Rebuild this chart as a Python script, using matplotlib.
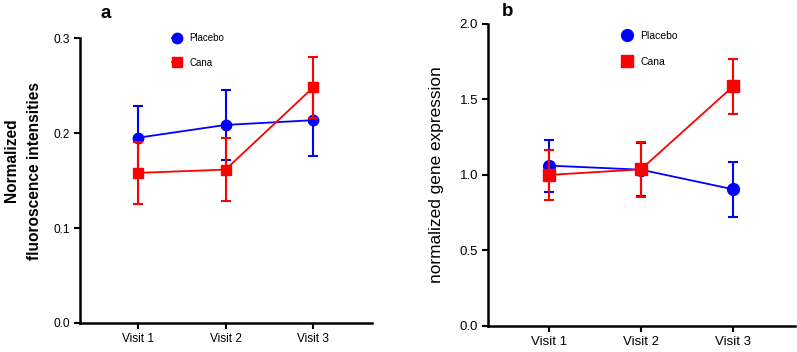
import matplotlib
matplotlib.use("Agg")
import matplotlib.pyplot as plt
from matplotlib.lines import Line2D

plt.rcParams['font.family'] = ['Liberation Sans', 'DejaVu Sans']

visits = ["Visit 1", "Visit 2", "Visit 3"]

# Panel a: normalized fluorescence intensities
a_placebo = [0.195, 0.2085, 0.2135]
a_placebo_err = [0.033, 0.0365, 0.038]
a_cana = [0.158, 0.1615, 0.248]
a_cana_err = [0.0325, 0.0335, 0.032]
a_yticks = [0.0, 0.1, 0.2, 0.3]

# Panel b: normalized gene expression
b_placebo = [1.062, 1.035, 0.905]
b_placebo_err = [0.172, 0.175, 0.183]
b_cana = [1.0, 1.037, 1.587]
b_cana_err = [0.163, 0.18, 0.182]
b_yticks = [0.0, 0.5, 1.0, 1.5, 2.0]

BLUE = "#0000ff"
RED = "#ff0000"

W, H = 797, 352
fig = plt.figure(figsize=(W / 100, H / 100), dpi=100)
ax1 = fig.add_axes([0.1004, 0.0824, 0.3663, 0.8096])
ax2 = fig.add_axes([0.612, 0.0739, 0.3855, 0.8581])

def style(ax, yticks, ylim, tick_fs):
    x = range(len(visits))
    for s in ("top", "right"):
        ax.spines[s].set_visible(False)
    for s in ("left", "bottom"):
        ax.spines[s].set_linewidth(1.8)
    ax.set_xticks(list(x))
    ax.set_xticklabels(visits, fontsize=tick_fs)
    ax.set_yticks(yticks)
    ax.set_yticklabels([f"{v:.1f}" for v in yticks], fontsize=tick_fs)
    ax.set_ylim(*ylim)
    ax.set_xlim(-0.66, 2.67)
    ax.tick_params(axis='both', width=1.5, length=4, direction='out', pad=3)

def plot_series(ax, pl, ple, ca, cae, ms):
    x = list(range(len(visits)))
    ax.errorbar(x, pl, yerr=ple, color=BLUE, marker='o', markersize=ms,
                linewidth=1.3, elinewidth=1.5, capsize=3.5, capthick=1.5, zorder=3)
    ax.errorbar(x, ca, yerr=cae, color=RED, marker='s', markersize=ms,
                linewidth=1.3, elinewidth=1.5, capsize=3.5, capthick=1.5, zorder=4)

def legend(ax, anchor, fs, ms):
    handles = [Line2D([], [], color=BLUE, marker='o', markersize=ms, linewidth=1.3),
               Line2D([], [], color=RED, marker='s', markersize=ms, linewidth=1.3)]
    ax.legend(handles, ["Placebo", "Cana"], loc='center left', bbox_to_anchor=anchor,
              frameon=False, fontsize=fs, handlelength=1.0, handletextpad=0.8,
              labelspacing=1.5, borderpad=0, borderaxespad=0)

plot_series(ax1, a_placebo, a_placebo_err, a_cana, a_cana_err, 7.5)
style(ax1, a_yticks, (0.0, 0.3), 8.6)
legend(ax1, (0.315, 0.956), 7, 7.5)
fig.text(12 / W, 1 - 160 / H, "Normalized", fontsize=11.2, fontweight='bold',
         rotation=90, ha='center', va='center')
fig.text(35 / W, 1 - 171 / H, "fluoroscence intensities", fontsize=11.2,
         fontweight='bold', rotation=90, ha='center', va='center')
fig.text(100 / W, 1 - 13 / H, "a", fontsize=13.5, fontweight='bold',
         ha='left', va='center')

plot_series(ax2, b_placebo, b_placebo_err, b_cana, b_cana_err, 8.5)
style(ax2, b_yticks, (0.0, 2.0), 9.5)
legend(ax2, (0.436, 0.918), 7.5, 8.5)
fig.text(437 / W, 1 - 174.5 / H, "normalized gene expression", fontsize=12.4,
         rotation=90, ha='center', va='center')
fig.text(502 / W, 1 - 11 / H, "b", fontsize=13.5, fontweight='bold',
         ha='left', va='center')

fig.savefig("out.png", dpi=100)
